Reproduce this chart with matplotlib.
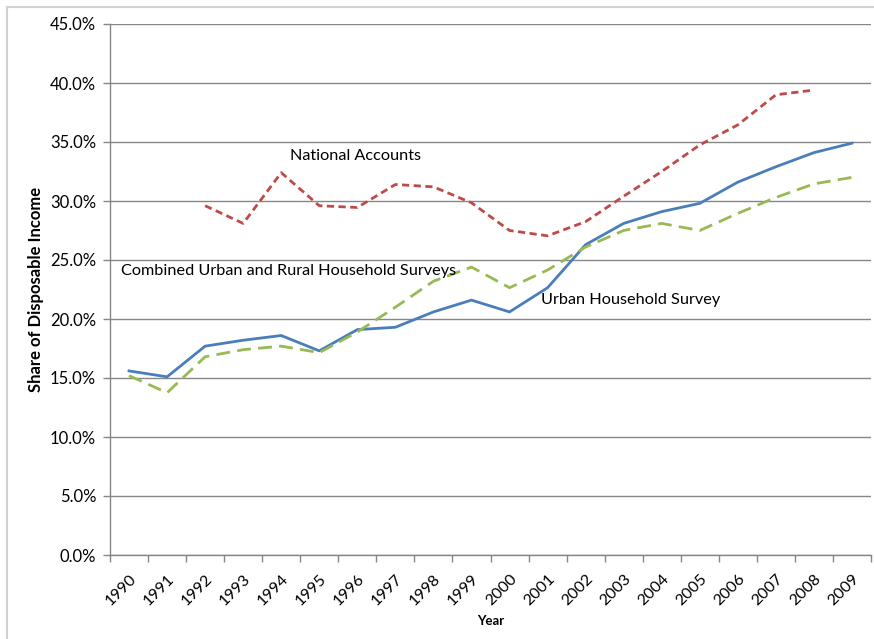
import matplotlib
matplotlib.use("Agg")
import matplotlib.pyplot as plt
from matplotlib.patches import Rectangle
from matplotlib.ticker import FixedLocator, PercentFormatter, NullFormatter

plt.rcParams['font.family'] = ['Lato', 'DejaVu Sans']

years = [str(y) for y in range(1990, 2010)]

urban_survey = [15.6, 15.1, 17.7, 18.2, 18.6, 17.3, 19.1, 19.3, 20.6, 21.6,
                20.6, 22.65, 26.3, 28.1, 29.1, 29.8, 31.6, 32.9, 34.1, 34.9]
combined_surveys = [15.2, 13.75, 16.8, 17.4, 17.7, 17.15, 18.9, 21.0, 23.2, 24.4,
                    22.65, 24.15, 26.1, 27.5, 28.1, 27.5, 28.95, 30.3, 31.45, 32.0]
national_accounts = [None, None, 29.6, 28.1, 32.4, 29.6, 29.45, 31.4, 31.2, 29.85,
                     27.5, 27.05, 28.25, 30.4, 32.5, 34.75, 36.45, 39.0, 39.4, None]

y_ticks = [0, 5, 10, 15, 20, 25, 30, 35, 40, 45]

W, H = 874, 639
fig = plt.figure(figsize=(W / 100, H / 100), dpi=100)
fig.patches.append(Rectangle((7 / W, -0.1), 1.2, (H - 7) / H + 0.1,
                             transform=fig.transFigure, fill=False,
                             edgecolor='#d0d0d0', linewidth=1.5))

ax = fig.add_axes([110 / W, (H - 555) / H, 761 / W, 531 / H])

x = list(range(len(years)))
grid_c = '#868686'

na_x = [i for i, v in zip(x, national_accounts) if v is not None]
na_y = [v for v in national_accounts if v is not None]

ax.plot(x, urban_survey, color='#4a7ebb', lw=2.0, solid_joinstyle='round', zorder=3)
ax.plot(x, combined_surveys, color='#98b954', lw=2.0, dashes=(5, 2.6), zorder=3)
ax.plot(na_x, na_y, color='#be4b48', lw=2.0, dashes=(2.6, 1.6), zorder=3)

ax.set_xlim(-0.5, len(years) - 0.5)
ax.set_ylim(0, 45)

ax.yaxis.set_major_locator(FixedLocator(y_ticks))
ax.yaxis.set_major_formatter(PercentFormatter(decimals=1))
ax.grid(axis='y', color=grid_c, lw=1.0)
ax.set_axisbelow(True)

# category boundaries carry the tick marks, category centres carry the labels
ax.xaxis.set_major_locator(FixedLocator([i - 0.5 for i in range(len(years) + 1)]))
ax.xaxis.set_major_formatter(NullFormatter())
ax.xaxis.set_minor_locator(FixedLocator(x))
ax.set_xticklabels(years, minor=True)
ax.tick_params(axis='x', which='minor', length=0, pad=12, labelsize=11.5)
ax.tick_params(axis='x', which='major', length=5, color=grid_c, width=1)
for lbl in ax.get_xticklabels(minor=True):
    lbl.set_rotation(45)
    lbl.set_ha('right')
    lbl.set_va('top')
    lbl.set_rotation_mode('anchor')
ax.tick_params(axis='y', length=5, color=grid_c, width=1, labelsize=12, pad=5)

for side in ('top', 'right'):
    ax.spines[side].set_visible(False)
for side in ('left', 'bottom'):
    ax.spines[side].set_color(grid_c)
    ax.spines[side].set_linewidth(1)

ax.set_ylabel('Share of Disposable Income', fontsize=12, fontweight='bold', labelpad=4)
ax.set_xlabel('Year', fontsize=9.5, fontweight='bold', labelpad=5)

ax.text(5.94, 33.8, 'National Accounts', fontsize=11.7, ha='center', va='center')
ax.text(4.2, 24.07, 'Combined Urban and Rural Household Surveys', fontsize=11.7,
        ha='center', va='center')
ax.text(13.18, 21.6, 'Urban Household Survey', fontsize=11.7, ha='center', va='center')

fig.savefig('out.png', dpi=100)
